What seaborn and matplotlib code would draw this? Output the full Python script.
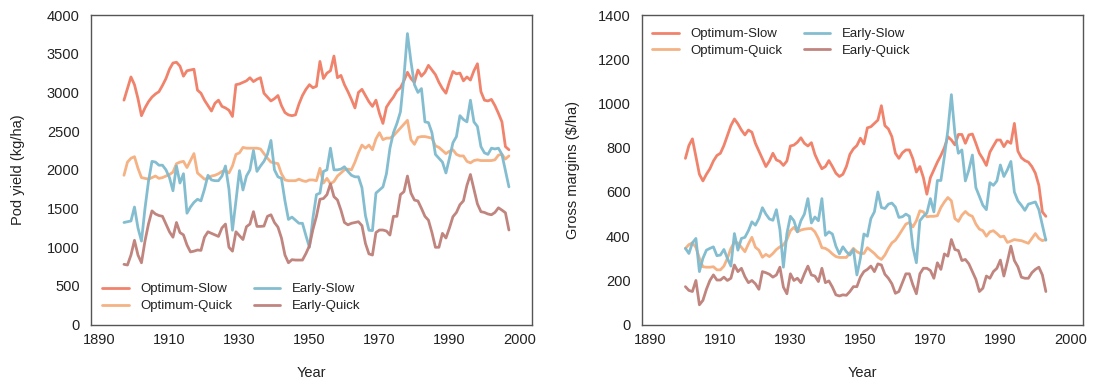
import numpy as np
import pandas as pd
import matplotlib
matplotlib.use("Agg")
import matplotlib.pyplot as plt
import seaborn as sns

# ---------------- data ----------------
series_names = ["Optimum-Slow", "Optimum-Quick", "Early-Slow", "Early-Quick"]
colors = ["#F07C64", "#F4AE7E", "#7DBACE", "#BD7F78"]

xtick_pos = [1890, 1910, 1930, 1950, 1970, 1990, 2010]
xtick_labels = ["1890", "1910", "1930", "1950", "1970", "1990", "2000"]

# Pod yield (kg/ha), 1897-2007
yield_start = 1897
yield_opt_slow = [
    2900, 3050, 3200, 3100, 2920, 2700, 2800, 2880, 2940, 2980,
    3010, 3090, 3180, 3300, 3380, 3390, 3340, 3210, 3280, 3290,
    3300, 3030, 2990, 2900, 2830, 2760, 2860, 2900, 2820, 2800,
    2770, 2690, 3100, 3110, 3130, 3150, 3190, 3140, 3170, 3190,
    2990, 2940, 2890, 2920, 2960, 2830, 2740, 2710, 2700, 2710,
    2850, 2960, 3040, 3100, 3060, 3080, 3400, 3180, 3250, 3280,
    3470, 3190, 3220, 3100, 3010, 2910, 2800, 3000, 3040, 2960,
    2880, 2820, 2900, 2730, 2600, 2810, 2880, 2940, 3020, 3060,
    3150, 3260, 3180, 3130, 3290, 3210, 3260, 3350, 3290, 3230,
    3130, 3050, 2990, 3140, 3270, 3240, 3250, 3150, 3200, 3160,
    3280, 3370, 3010, 2900, 2890, 2910, 2830, 2730, 2620, 2300,
    2260,
]
yield_opt_quick = [
    1930, 2100, 2150, 2170, 2020, 1900, 1890, 1880, 1900, 1920,
    1890, 1900, 1920, 1940, 1970, 2080, 2100, 2110, 2030, 2120,
    2210, 1960, 1920, 1880, 1890, 1920, 1930, 1950, 1980, 1990,
    1960, 2050, 2200, 2220, 2290, 2280, 2280, 2280, 2280, 2270,
    2210, 2150, 2100, 2090, 2080, 1950, 1870, 1860, 1860, 1860,
    1880, 1860, 1850, 1870, 1870, 1860, 2020, 1830, 1890, 1820,
    1850, 1920, 1960, 2000, 2010, 2000, 2100, 2220, 2320, 2280,
    2320, 2260, 2400, 2480, 2390, 2410, 2410, 2440, 2490, 2540,
    2590, 2640, 2390, 2330, 2420, 2430, 2430, 2420, 2410, 2310,
    2290, 2250, 2210, 2240, 2260, 2200, 2180, 2180, 2110, 2090,
    2120, 2130, 2120, 2120, 2120, 2120, 2130, 2190, 2200, 2140,
    2180,
]
yield_early_slow = [
    1320, 1330, 1340, 1520, 1250, 1080, 1500, 1850, 2110, 2100,
    2060, 2060, 2000, 1900, 1730, 2050, 1830, 1950, 1440, 1520,
    1580, 1620, 1600, 1750, 1930, 1870, 1860, 1860, 1920, 2050,
    1750, 1220, 1600, 1990, 1740, 1920, 2000, 2250, 1980, 2050,
    2110, 2200, 2380, 2000, 1910, 1890, 1600, 1360, 1390, 1350,
    1310, 1310, 1150, 1000, 1380, 1680, 1700, 1980, 2000, 2280,
    2000, 2000, 2010, 2040, 1980, 1930, 1910, 1910, 1770, 1410,
    1220, 1215, 1700, 1740, 1780, 1950, 2280, 2480, 2600, 2750,
    3200, 3760, 3400, 3100, 3000, 3050, 2620, 2610, 2480, 2200,
    2150, 2100, 1960, 2150, 2350, 2430, 2700, 2650, 2620, 2900,
    2620, 2560, 2300, 2220, 2200, 2280, 2270, 2280, 2200, 1990,
    1780,
]
yield_early_quick = [
    780, 771, 900, 1090, 900, 800, 1080, 1300, 1470, 1430,
    1410, 1400, 1300, 1200, 1130, 1320, 1190, 1160, 1030, 940,
    950, 965, 960, 1130, 1200, 1180, 1160, 1140, 1250, 1300,
    1000, 950, 1200, 1150, 1100, 1266, 1300, 1460, 1270, 1270,
    1274, 1400, 1420, 1320, 1260, 1120, 900, 800, 840, 835,
    835, 835, 920, 1020, 1230, 1400, 1620, 1630, 1680, 1820,
    1654, 1611, 1480, 1320, 1290, 1310, 1320, 1330, 1280, 1050,
    915, 900, 1190, 1223, 1223, 1210, 1158, 1400, 1400, 1680,
    1718, 1920, 1700, 1610, 1598, 1503, 1400, 1350, 1190, 1000,
    1000, 1180, 1120, 1250, 1395, 1450, 1550, 1600, 1800, 1940,
    1750, 1560, 1460, 1450, 1430, 1420, 1450, 1510, 1480, 1446,
    1223,
]

# Gross margins ($/ha), 1900-2003
margin_start = 1900
margin_opt_slow = [
    752, 810, 840, 760, 680, 650, 680, 705, 740, 765,
    775, 810, 855, 900, 930, 908, 880, 858, 880, 870,
    820, 785, 750, 715, 740, 775, 745, 738, 720, 740,
    808, 812, 825, 845, 820, 808, 823, 770, 735, 705,
    715, 742, 715, 685, 670, 680, 715, 770, 795, 810,
    843, 817, 890, 895, 910, 925, 990, 900, 885, 850,
    775, 752, 777, 790, 790, 750, 690, 715, 665, 590,
    665, 700, 735, 765, 800, 850, 835, 813, 860, 860,
    820, 858, 862, 820, 775, 750, 720, 780, 808, 835,
    835, 805, 830, 820, 910, 785, 755, 742, 735, 715,
    685, 630, 510, 490,
]
margin_opt_quick = [
    345, 362, 370, 350, 300, 262, 260, 260, 262, 248,
    248, 265, 300, 345, 372, 370, 350, 330, 365, 395,
    350, 337, 305, 318, 308, 322, 340, 352, 360, 385,
    425, 440, 420, 428, 432, 434, 435, 420, 390, 348,
    345, 335, 320, 308, 304, 304, 304, 325, 345, 330,
    322, 322, 348, 335, 322, 305, 295, 315, 345, 370,
    382, 405, 430, 455, 462, 442, 470, 515, 510, 488,
    490, 490, 493, 530, 555, 575, 560, 480, 467, 495,
    512, 497, 490, 455, 432, 425, 400, 420, 425, 412,
    397, 400, 372, 378, 385, 382, 380, 374, 368, 390,
    412, 390, 380, 385,
]
margin_early_slow = [
    345, 322, 370, 390, 240, 300, 337, 345, 352, 312,
    315, 340, 300, 265, 412, 337, 390, 395, 425, 465,
    450, 480, 529, 500, 478, 472, 520, 430, 260, 412,
    490, 470, 420, 470, 500, 570, 460, 487, 470, 570,
    404, 420, 410, 355, 320, 352, 330, 315, 340, 225,
    300, 410, 400, 480, 510, 600, 530, 525, 545, 550,
    532, 485, 488, 500, 490, 350, 280, 470, 490, 505,
    570, 510, 652, 652, 760, 880, 1040, 865, 775, 790,
    650, 700, 767, 620, 580, 540, 520, 642, 630, 650,
    722, 670, 700, 738, 600, 560, 540, 517, 545, 550,
    555, 520, 450, 382,
]
margin_early_quick = [
    172, 155, 150, 200, 90, 110, 160, 200, 225, 202,
    202, 215, 200, 210, 270, 240, 255, 217, 190, 200,
    185, 160, 240, 235, 228, 215, 225, 260, 170, 140,
    230, 200, 210, 190, 230, 265, 225, 220, 195, 255,
    190, 198, 170, 135, 130, 135, 133, 150, 172, 172,
    215, 240, 250, 265, 240, 275, 270, 228, 210, 185,
    142, 150, 190, 230, 230, 180, 140, 230, 255, 255,
    245, 210, 280, 250, 320, 310, 385, 340, 335, 290,
    295, 275, 240, 205, 150, 165, 220, 210, 240, 255,
    292, 220, 285, 355, 290, 262, 215, 210, 210, 235,
    250, 260, 225, 150,
]


def long_frame(start, columns):
    frames = []
    for name, vals in zip(series_names, columns):
        frames.append(pd.DataFrame({
            "Year": np.arange(start, start + len(vals)),
            "value": vals,
            "series": name,
        }))
    return pd.concat(frames, ignore_index=True)


yield_df = long_frame(yield_start, [yield_opt_slow, yield_opt_quick,
                                    yield_early_slow, yield_early_quick])
margin_df = long_frame(margin_start, [margin_opt_slow, margin_opt_quick,
                                      margin_early_slow, margin_early_quick])

# ---------------- style ----------------
sns.set_theme(style="white")
plt.rcParams["font.family"] = ["Liberation Sans", "DejaVu Sans"]
plt.rcParams["text.color"] = "#222222"
plt.rcParams["axes.labelcolor"] = "#222222"
plt.rcParams["xtick.color"] = "#222222"
plt.rcParams["ytick.color"] = "#222222"

palette = dict(zip(series_names, colors))

fig = plt.figure(figsize=(11.01, 3.83), dpi=100)
ax1 = fig.add_axes([0.0824, 0.1522, 0.4005, 0.8086])
ax2 = fig.add_axes([0.5828, 0.1522, 0.4005, 0.8086])

panels = [
    (ax1, yield_df, "Pod yield (kg/ha)", (0, 4000), np.arange(0, 4001, 500),
     "lower left", (0.026, 0.04), 16),
    (ax2, margin_df, "Gross margins ($/ha)", (0, 1400), np.arange(0, 1401, 200),
     "upper left", (0.024, 0.958), 13),
]

for ax, df, ylabel, ylim, yticks, loc, anchor, lpad in panels:
    sns.lineplot(data=df, x="Year", y="value", hue="series",
                 hue_order=series_names, palette=palette,
                 linewidth=2.0, alpha=0.95, ax=ax)
    ax.set_xlim(1887.5, 2013.5)
    ax.set_ylim(*ylim)
    ax.set_yticks(yticks)
    ax.set_xticks(xtick_pos)
    ax.set_xticklabels(xtick_labels)
    ax.set_xlabel("Year", fontsize=10.5, labelpad=14)
    ax.set_ylabel(ylabel, fontsize=10.5, labelpad=lpad)
    ax.tick_params(axis="y", length=5, width=0.9, color="#555555",
                   labelsize=10.5, pad=3)
    ax.tick_params(axis="x", length=0, labelsize=10.5, pad=6)
    for sp in ax.spines.values():
        sp.set_visible(True)
        sp.set_color("#555555")
        sp.set_linewidth(1.0)
    ax.grid(False)
    handles, labels = ax.get_legend_handles_labels()
    ax.legend(handles, labels, loc=loc, bbox_to_anchor=anchor, ncol=2,
              frameon=False, fontsize=9.5, handlelength=2.0,
              handletextpad=0.9, columnspacing=1.6, labelspacing=0.35,
              borderpad=0, borderaxespad=0)

fig.savefig("out.png", dpi=100)
